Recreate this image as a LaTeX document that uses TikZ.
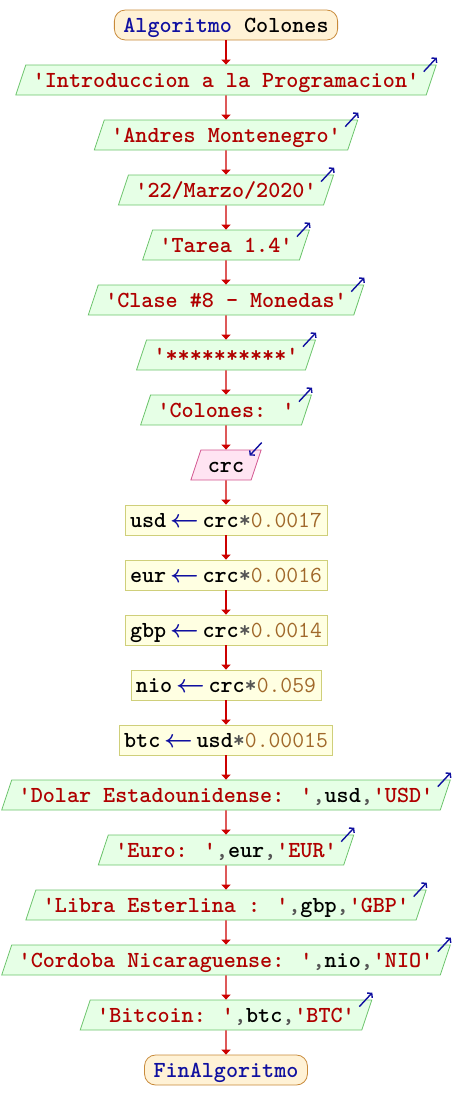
\documentclass[tikz,border=0pt]{standalone}
\usepackage{amsmath}
\usepackage{amssymb}
\usepackage{tikz}
\usetikzlibrary{calc}
\usetikzlibrary{arrows.meta}
\usetikzlibrary{shapes.geometric}

\definecolor{fondoIni}{HTML}{FFF2D6}
\definecolor{bordeIni}{HTML}{C88A3A}
\definecolor{fondoSal}{HTML}{E6FFE6}
\definecolor{bordeSal}{HTML}{6CC46C}
\definecolor{fondoEnt}{HTML}{FFE4F2}
\definecolor{bordeEnt}{HTML}{D2558F}
\definecolor{fondoAsig}{HTML}{FFFFE2}
\definecolor{bordeAsig}{HTML}{CFCF7A}
\definecolor{rojoLinea}{HTML}{CC0000}
\definecolor{rojoTexto}{HTML}{B00000}
\definecolor{azulClave}{HTML}{1010A0}
\definecolor{grisSigno}{HTML}{555555}
\definecolor{numero}{HTML}{A0682A}

\newcommand{\cad}[1]{\textcolor{rojoTexto}{\textquotesingle#1\textquotesingle}}
\newcommand{\coma}{\textcolor{grisSigno}{,}}
\newcommand{\asig}{\,\textcolor{azulClave}{$\boldsymbol{\leftarrow}$}\,}
\newcommand{\por}{\textcolor{grisSigno}{*}}
\newcommand{\num}[1]{\textcolor{numero}{\mdseries#1}}

\tikzset{
    todo/.style={font=\ttfamily\bfseries\fontsize{23}{24}\selectfont, text height=17pt, text depth=3pt, inner ysep=5pt, line width=0.8pt},
    inicio/.style={todo, draw=bordeIni, fill=fondoIni, rounded corners=11pt, inner xsep=9pt},
    salida/.style={todo, trapezium, trapezium left angle=71.6, trapezium right angle=108.4, draw=bordeSal, fill=fondoSal, inner xsep=7pt},
    entrada/.style={salida, draw=bordeEnt, fill=fondoEnt},
    asigna/.style={todo, rectangle, draw=bordeAsig, fill=fondoAsig, inner xsep=5pt},
    flecha/.style={draw=rojoLinea, line width=1.4pt, -{Triangle[width=9pt,length=5pt]}},
    marca/.style={draw=azulClave, line width=1.4pt, -{Straight Barb[length=3pt,width=7pt]}}
}

\begin{document}
\begin{tikzpicture}[x=1pt,y=1pt]
\useasboundingbox (0,0) rectangle (452,-1120);
% inicio
\node[inicio] (ini) at (226,-25) {\textcolor{azulClave}{Algoritmo} Colones};
% mensajes iniciales
\node[salida] (msj1) at (226,-80) {\cad{Introduccion a la Programacion}};
\node[salida] (msj2) at (226,-135) {\cad{Andres Montenegro}};
\node[salida] (msj3) at (226,-190) {\cad{22/Marzo/2020}};
\node[salida] (msj4) at (226,-245) {\cad{Tarea 1.4}};
\node[salida] (msj5) at (226,-300) {\cad{Clase \#8 - Monedas}};
\node[salida] (msj6) at (226,-355) {\cad{**********}};
\node[salida] (msj7) at (226,-410) {\cad{Colones: }};
% lectura
\node[entrada] (leer) at (226,-465) {crc};
% conversiones
\node[asigna] (asig1) at (226,-520) {usd\asig crc\por\num{0.0017}};
\node[asigna] (asig2) at (226,-575) {eur\asig crc\por\num{0.0016}};
\node[asigna] (asig3) at (226,-630) {gbp\asig crc\por\num{0.0014}};
\node[asigna] (asig4) at (226,-685) {nio\asig crc\por\num{0.059}};
\node[asigna] (asig5) at (226,-740) {btc\asig usd\por\num{0.00015}};
% resultados
\node[salida] (res1) at (226,-795) {\cad{Dolar Estadounidense: }\coma usd\coma\cad{USD}};
\node[salida] (res2) at (226,-850) {\cad{Euro: }\coma eur\coma\cad{EUR}};
\node[salida] (res3) at (226,-905) {\cad{Libra Esterlina : }\coma gbp\coma\cad{GBP}};
\node[salida] (res4) at (226,-960) {\cad{Cordoba Nicaraguense: }\coma nio\coma\cad{NIO}};
\node[salida] (res5) at (226,-1015) {\cad{Bitcoin: }\coma btc\coma\cad{BTC}};
% fin
\node[inicio] (fin) at (226,-1070) {\textcolor{azulClave}{FinAlgoritmo}};

% flujo
\draw[flecha] (ini) -- (msj1);
\draw[flecha] (msj1) -- (msj2);
\draw[flecha] (msj2) -- (msj3);
\draw[flecha] (msj3) -- (msj4);
\draw[flecha] (msj4) -- (msj5);
\draw[flecha] (msj5) -- (msj6);
\draw[flecha] (msj6) -- (msj7);
\draw[flecha] (msj7) -- (leer);
\draw[flecha] (leer) -- (asig1);
\draw[flecha] (asig1) -- (asig2);
\draw[flecha] (asig2) -- (asig3);
\draw[flecha] (asig3) -- (asig4);
\draw[flecha] (asig4) -- (asig5);
\draw[flecha] (asig5) -- (res1);
\draw[flecha] (res1) -- (res2);
\draw[flecha] (res2) -- (res3);
\draw[flecha] (res3) -- (res4);
\draw[flecha] (res4) -- (res5);
\draw[flecha] (res5) -- (fin);

% marcas de escritura y lectura
\draw[marca] ($(msj1.top right corner)+(-13,-7)$) -- ($(msj1.top right corner)+(0,7)$);
\draw[marca] ($(msj2.top right corner)+(-13,-7)$) -- ($(msj2.top right corner)+(0,7)$);
\draw[marca] ($(msj3.top right corner)+(-13,-7)$) -- ($(msj3.top right corner)+(0,7)$);
\draw[marca] ($(msj4.top right corner)+(-13,-7)$) -- ($(msj4.top right corner)+(0,7)$);
\draw[marca] ($(msj5.top right corner)+(-13,-7)$) -- ($(msj5.top right corner)+(0,7)$);
\draw[marca] ($(msj6.top right corner)+(-13,-7)$) -- ($(msj6.top right corner)+(0,7)$);
\draw[marca] ($(msj7.top right corner)+(-13,-7)$) -- ($(msj7.top right corner)+(0,7)$);
\draw[marca] ($(leer.top right corner)+(0,7)$) -- ($(leer.top right corner)+(-12,-6)$);
\draw[marca] ($(res1.top right corner)+(-13,-7)$) -- ($(res1.top right corner)+(0,7)$);
\draw[marca] ($(res2.top right corner)+(-13,-7)$) -- ($(res2.top right corner)+(0,7)$);
\draw[marca] ($(res3.top right corner)+(-13,-7)$) -- ($(res3.top right corner)+(0,7)$);
\draw[marca] ($(res4.top right corner)+(-13,-7)$) -- ($(res4.top right corner)+(0,7)$);
\draw[marca] ($(res5.top right corner)+(-13,-7)$) -- ($(res5.top right corner)+(0,7)$);
\end{tikzpicture}
\end{document}
